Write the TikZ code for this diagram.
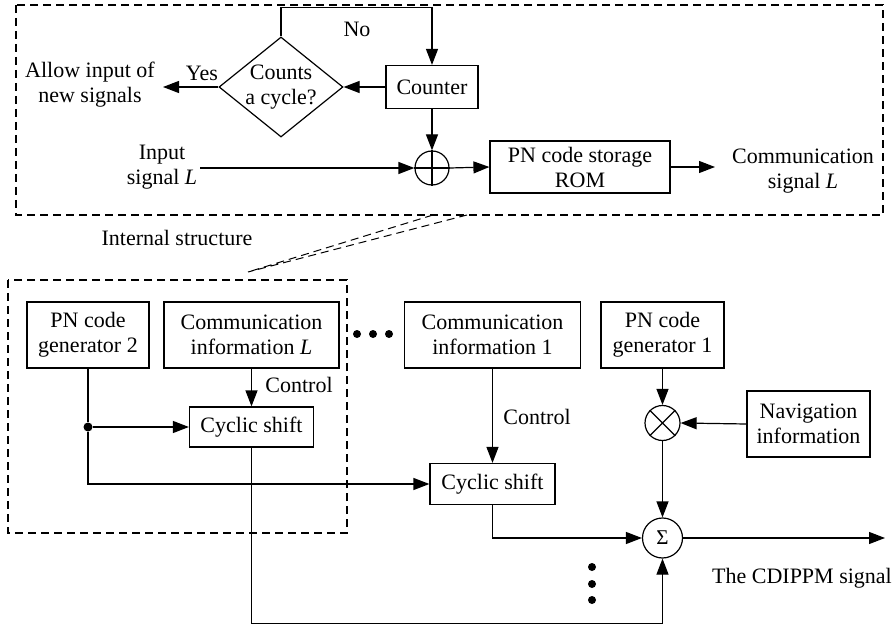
\documentclass[tikz,border=0pt]{standalone}
\usepackage{fontspec}
\setmainfont{Liberation Serif}
\usetikzlibrary{shapes.geometric,arrows.meta}
\newcommand\dgfont{\fontsize{22}{25}\selectfont}

\begin{document}
\begin{tikzpicture}[x=1pt,y=-1pt,
  every node/.style={font=\dgfont, align=center},
  blk/.style={draw, line width=1.2pt, inner sep=0pt},
  wire/.style={line width=1.2pt},
  arr/.style={wire, -{Triangle[length=16pt,width=12pt]}},
  frame/.style={line width=1.2pt, dash pattern=on 8pt off 5pt},
  jdot/.style={circle, fill, inner sep=0pt, minimum size=8pt},
]
\useasboundingbox (0,0) rectangle (892,631);

% ---------- upper block: internal structure ----------
\draw[frame] (16,5) rectangle (883,215);

\node[blk, diamond, aspect=1.24, minimum width=124pt, minimum height=100pt] (dia) at (281,87) {};
\node (diatext) at (281,87) {Counts\\a cycle?};
\node[blk, minimum width=92pt, minimum height=43pt] (cnt) at (432,87) {Counter};
\node[blk, circle, minimum size=34pt] (xor) at (432,168) {};
\draw[wire] (xor.north) -- (xor.south) (xor.west) -- (xor.east);
\node[blk, minimum width=180pt, minimum height=52pt] (rom) at (580,167) {PN code storage\\ROM};

\node (no) at (357,29) {No};
\node (yes) at (202,73) {Yes};
\node (allow) at (90,85) {Allow input of\\new signals};
\node (inp) at (162,167) {Input\\signal \textit{L}};
\node (comout) at (803,171) {Communication\\signal \textit{L}};
\node (intl) at (177,238) {Internal structure};

\coordinate (yesend) at (163,87);
\coordinate (inpstart) at (200,168);
\coordinate (romout) at (715,167);

\draw[arr] (dia.north) -- ++(0,-29) -| (cnt.north);
\draw[arr] (cnt.west) -- (dia.east);
\draw[arr] (dia.west) -- (yesend);
\draw[arr] (cnt.south) -- (xor.north);
\draw[arr] (inpstart) -- (xor.west);
\draw[arr] (xor.east) -- (rom.west);
\draw[arr] (rom.east) -- (romout);

% zoom lines between the two dashed frames
\coordinate (zA) at (433,215);
\coordinate (zB) at (467,215);
\coordinate (zC) at (248,272);
\draw[frame, line width=1pt] (zA) -- (zC) (zB) -- (zC);

% ---------- lower block: signal generation ----------
\draw[frame] (8,280) rectangle (347,533);

\node[blk, minimum width=122pt, minimum height=66pt] (pn2) at (88,335) {PN code\\generator 2};
\node[blk, minimum width=175pt, minimum height=66pt] (ciL) at (251.5,335) {Communication\\information \textit{L}};
\node[blk, minimum width=124pt, minimum height=40pt] (cs1) at (251.5,427) {Cyclic shift};
\node[blk, minimum width=176pt, minimum height=66pt] (ci1) at (492.5,335) {Communication\\information 1};
\node[blk, minimum width=123pt, minimum height=66pt] (pn1) at (662.5,335) {PN code\\generator 1};
\node[blk, minimum width=123pt, minimum height=66pt] (nav) at (808.5,424) {Navigation\\information};
\node[blk, minimum width=125pt, minimum height=41pt] (cs2) at (492.5,484) {Cyclic shift};
\node[blk, circle, minimum size=35pt] (mul) at (662.5,423) {};
\draw[wire] (mul.north west) -- (mul.south east) (mul.north east) -- (mul.south west);
\node[blk, circle, minimum size=40pt] (sum) at (662.5,538) {\fontsize{21}{21}\selectfont Σ};

\node (ctl1) at (299,385) {Control};
\node (ctl2) at (537,417) {Control};
\node (cdi) at (802,578) {The CDIPPM signal};

\node[jdot] (hd1) at (357,334) {};
\node[jdot] (hd2) at (373,334) {};
\node[jdot] (hd3) at (389,334) {};
\node[jdot] (vd1) at (592,567) {};
\node[jdot] (vd2) at (592,584) {};
\node[jdot] (vd3) at (592,600) {};

\node[jdot, minimum size=9pt] (jn) at (88,427) {};
\coordinate (sumout) at (885,538);

\draw[wire] (pn2.south) -- (jn);
\draw[arr] (jn) -- (cs1.west);
\draw[arr] (jn) |- (cs2.west);
\draw[arr] (ciL.south) -- (cs1.north);
\draw[arr] (ci1.south) -- (cs2.north);
\draw[arr] (cs1.south) -- ++(0,176) -| (sum.south);
\draw[arr] (cs2.south) |- (sum.west);
\draw[arr] (pn1.south) -- (mul.north);
\draw[arr] (nav.west) -- (mul.east);
\draw[arr] (mul.south) -- (sum.north);
\draw[arr] (sum.east) -- (sumout);
\end{tikzpicture}
\end{document}
